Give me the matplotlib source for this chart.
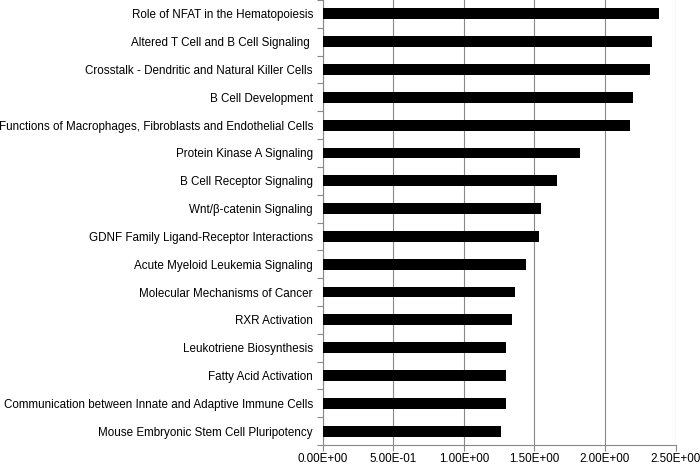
import matplotlib
matplotlib.use("Agg")
import matplotlib.pyplot as plt
import numpy as np
from matplotlib.ticker import FixedLocator

categories = [
    "Role of NFAT in the Hematopoiesis",
    "Altered T Cell and B Cell Signaling ",
    "Crosstalk - Dendritic and Natural Killer Cells",
    "B Cell Development",
    "Functions of Macrophages, Fibroblasts and Endothelial Cells",
    "Protein Kinase A Signaling",
    "B Cell Receptor Signaling",
    "Wnt/β-catenin Signaling",
    "GDNF Family Ligand-Receptor Interactions",
    "Acute Myeloid Leukemia Signaling",
    "Molecular Mechanisms of Cancer",
    "RXR Activation",
    "Leukotriene Biosynthesis",
    "Fatty Acid Activation",
    "Communication between Innate and Adaptive Immune Cells",
    "Mouse Embryonic Stem Cell Pluripotency",
]
values = [2.38, 2.33, 2.32, 2.20, 2.18, 1.82, 1.66, 1.55, 1.53, 1.44, 1.36, 1.34, 1.30, 1.30, 1.30, 1.26]
x_ticks = [0.0, 0.5, 1.0, 1.5, 2.0, 2.5]
x_tick_labels = ["0.00E+00", "5.00E-01", "1.00E+00", "1.50E+00", "2.00E+00", "2.50E+00"]

plt.rcParams['font.family'] = ['Liberation Sans', 'DejaVu Sans']

fig = plt.figure(figsize=(7.0, 4.66), dpi=100)
ax = fig.add_axes([0.461, 0.045, 0.504, 0.955])

n = len(categories)
y = np.arange(n)
ax.barh(y, values, height=0.39, color="black", zorder=3)

ax.set_ylim(n - 0.5, -0.5)
ax.set_xlim(0, 2.5)

ax.set_yticks(y)
ax.set_yticklabels(categories, fontsize=8.4)
ax.yaxis.set_minor_locator(FixedLocator(np.arange(-0.5, n, 1.0)))
ax.tick_params(axis='y', which='major', length=0, pad=7)
ax.tick_params(axis='y', which='minor', length=4, color="#888888", width=0.8)

ax.set_xticks(x_ticks)
ax.set_xticklabels(x_tick_labels, fontsize=8.4)
ax.tick_params(axis='x', which='major', length=4, color="#888888", width=0.8, pad=2)

ax.grid(axis='x', color="#888888", linewidth=0.8, zorder=0)
for s in ['top', 'right']:
    ax.spines[s].set_visible(False)
for s in ['left', 'bottom']:
    ax.spines[s].set_color("#888888")
    ax.spines[s].set_linewidth(0.8)

fig.savefig("out.png", dpi=100)
